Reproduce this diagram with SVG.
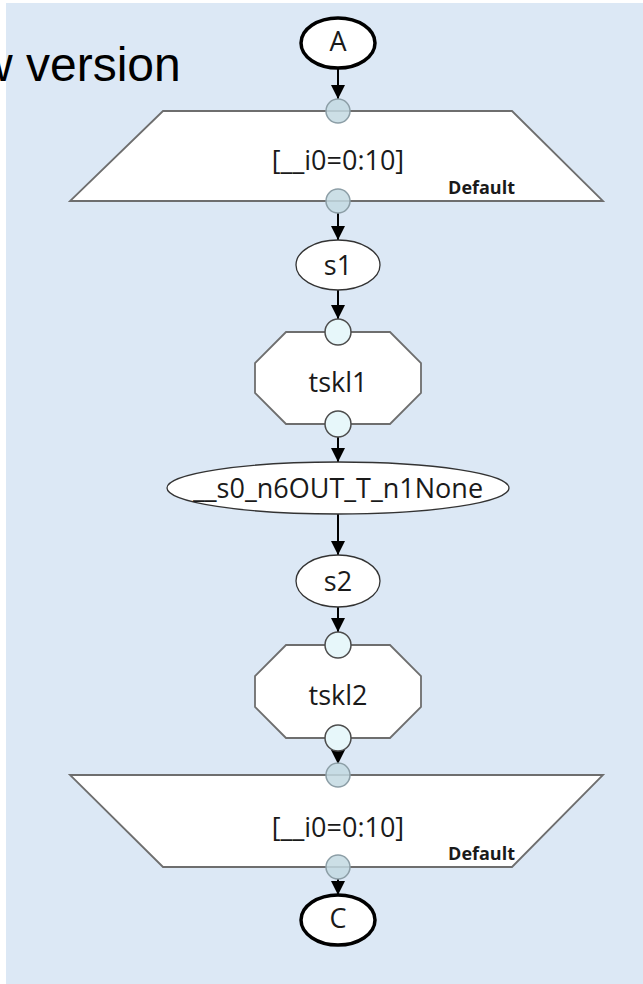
<svg xmlns="http://www.w3.org/2000/svg" width="643" height="984" viewBox="0 0 643 984">
  <style>
    .lbl { font-family: "Open Sans", "Noto Sans", sans-serif; font-size: 27px; fill: #1a1a1a; text-anchor: middle; }
    .sched { font-family: "Open Sans", "Noto Sans", sans-serif; font-size: 18px; font-weight: bold; fill: #1a1a1a; text-anchor: end; }
    .term { fill: #ffffff; stroke: #000000; stroke-width: 3.5; }
    .access { fill: #ffffff; stroke: #333333; stroke-width: 1.3; }
    .map { fill: #ffffff; stroke: #6e6e6e; stroke-width: 1.8; }
    .task { fill: #ffffff; stroke: #6e6e6e; stroke-width: 1.8; }
    .mport { fill: #c3d9e2; fill-opacity: 0.85; stroke: #8c9ea6; stroke-width: 1.5; }
    .tport { fill: #e7f7fa; stroke: #4d4d4d; stroke-width: 1.5; }
    .edge { stroke: #000000; stroke-width: 2; fill: none; marker-end: url(#arrow); }
  </style>
  <defs>
    <marker id="arrow" viewBox="0 0 14 16" refX="14" refY="7" markerWidth="14" markerHeight="16" markerUnits="userSpaceOnUse" orient="auto">
      <path d="M0,0 L14,7 L0,14 Z" fill="#000000"/>
    </marker>
  </defs>

  <!-- page background -->
  <rect x="0" y="0" width="643" height="984" fill="#ffffff"/>
  <rect x="6" y="3" width="637" height="981" fill="#dce8f5"/>
  <text x="-22" y="81" font-family="'Liberation Sans', Arial, sans-serif" font-size="48" fill="#000000">w version</text>

  <!-- connectors -->
  <g id="edges">
    <line class="edge" x1="338" y1="68" x2="338" y2="99"/>
    <line class="edge" x1="338" y1="213" x2="338" y2="240"/>
    <line class="edge" x1="338" y1="290" x2="338" y2="319"/>
    <line class="edge" x1="338" y1="437" x2="338" y2="462"/>
    <line class="edge" x1="338" y1="514" x2="338" y2="555"/>
    <line class="edge" x1="338" y1="607" x2="338" y2="632"/>
    <line class="edge" x1="338" y1="749" x2="338" y2="764"/>
    <line class="edge" x1="338" y1="879" x2="338" y2="895"/>
  </g>

  <g id="node-A">
    <ellipse class="term" cx="338" cy="43" rx="37" ry="25"/>
    <text class="lbl" x="338" y="51" font-size="23">A</text>
  </g>

  <g id="map-entry">
    <polygon class="map" points="163,111 512,111 603,201 70,201"/>
    <text class="lbl" x="338" y="170">[__i0=0:10]</text>
    <text class="sched" x="515" y="194">Default</text>
    <circle class="mport" cx="338" cy="111" r="12"/>
    <circle class="mport" cx="338" cy="201" r="12"/>
  </g>

  <g id="node-s1">
    <ellipse class="access" cx="338" cy="265" rx="42" ry="25"/>
    <text class="lbl" x="338" y="275">s1</text>
  </g>

  <g id="tasklet-1">
    <polygon class="task" points="286,332 390,332 421,363 421,393 390,424 286,424 255,393 255,363"/>
    <text class="lbl" x="338" y="392">tskl1</text>
    <circle class="tport" cx="338" cy="332" r="13"/>
    <circle class="tport" cx="338" cy="424" r="13"/>
  </g>

  <g id="node-s0-n6">
    <ellipse class="access" cx="338" cy="488" rx="171" ry="26"/>
    <text class="lbl" x="338" y="498" font-size="28">__s0_n6OUT_T_n1None</text>
  </g>

  <g id="node-s2">
    <ellipse class="access" cx="338" cy="581" rx="42" ry="26"/>
    <text class="lbl" x="338" y="591">s2</text>
  </g>

  <g id="tasklet-2">
    <polygon class="task" points="286,645 390,645 421,676 421,707 390,738 286,738 255,707 255,676"/>
    <text class="lbl" x="338" y="705">tskl2</text>
    <circle class="tport" cx="338" cy="645" r="13"/>
    <circle class="tport" cx="338" cy="738" r="13"/>
  </g>

  <g id="map-exit">
    <polygon class="map" points="70,775 603,775 512,867 163,867"/>
    <text class="lbl" x="338" y="837">[__i0=0:10]</text>
    <text class="sched" x="515" y="860">Default</text>
    <circle class="mport" cx="338" cy="775" r="12"/>
    <circle class="mport" cx="338" cy="867" r="12"/>
  </g>

  <g id="node-C">
    <ellipse class="term" cx="338" cy="920" rx="37" ry="25"/>
    <text class="lbl" x="338" y="928" font-size="23">C</text>
  </g>
</svg>
